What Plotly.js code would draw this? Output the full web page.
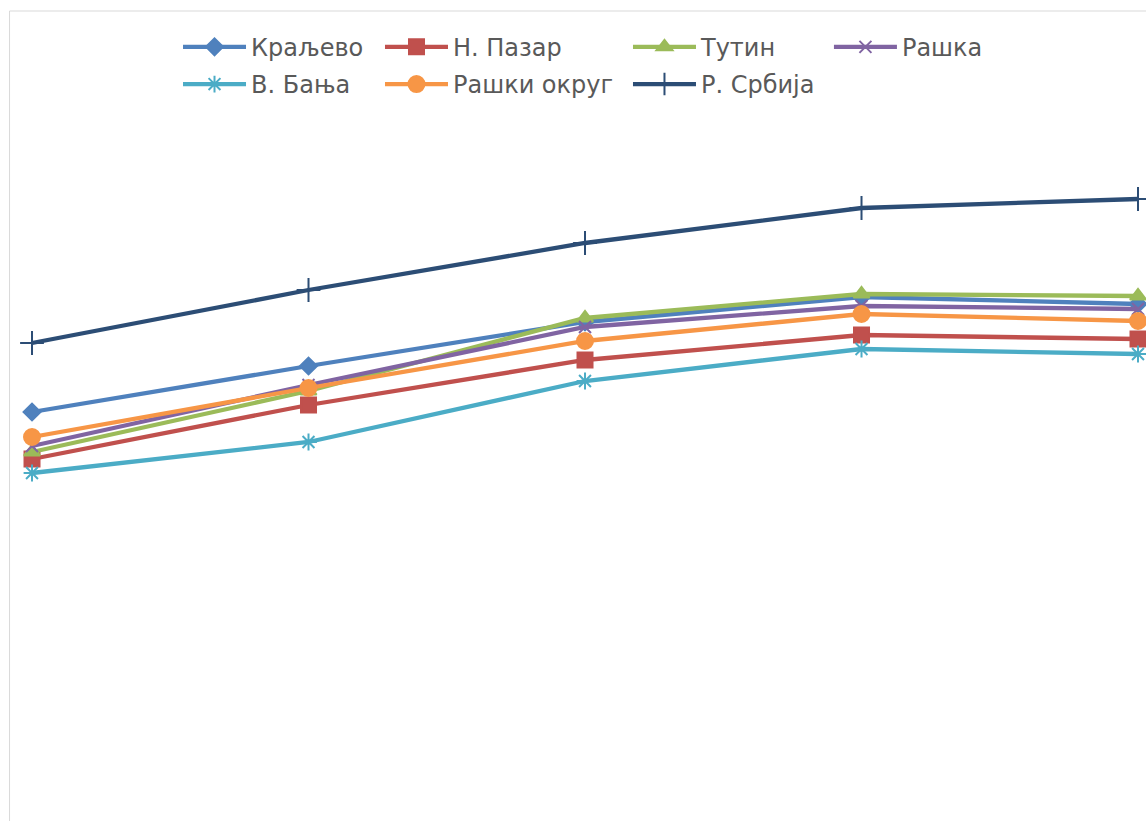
<!DOCTYPE html>
<html>
<head>
<meta charset="utf-8">
<script src="https://cdn.plot.ly/plotly-3.0.1.min.js"></script>
<style>
html,body{margin:0;padding:0;background:#fff;overflow:hidden;}
#chart{width:1146px;height:821px;}
</style>
</head>
<body>
<div id="chart"></div>
<script>
// Categories (axis labels are outside the visible crop)
const categories = ["1", "2", "3", "4", "5"];

// Series values (arbitrary linear scale)
const kraljevo   = [38.8, 43.4, 47.8, 50.3, 49.6];
const noviPazar  = [34.1, 39.5, 44.0, 46.5, 46.1];
const tutin      = [34.8, 40.9, 48.2, 50.6, 50.4];
const raska      = [35.4, 41.5, 47.3, 49.4, 49.1];
const vBanja     = [32.7, 35.8, 41.9, 45.1, 44.6];
const raskiOkrug = [36.3, 41.2, 45.9, 48.6, 47.9];
const srbija     = [45.7, 51.0, 55.7, 59.2, 60.1];

const seriesNames = ["Краљево", "Н. Пазар", "Тутин", "Рашка", "В. Бања", "Рашки округ", "Р. Србија"];
const seriesValues = [kraljevo, noviPazar, tutin, raska, vBanja, raskiOkrug, srbija];
const seriesColors = ["#4f81bd", "#c0504d", "#9bbb59", "#8064a2", "#4bacc6", "#f79646", "#2c4d75"];
const seriesSymbols = ["diamond", "square", "triangle-up", "x-thin-open", "asterisk-open", "circle", "cross-thin-open"];
const seriesSizes = [13, 15, 14, 12, 14, 16, 17];
const seriesLegend = ["legend", "legend2", "legend3", "legend4", "legend", "legend2", "legend3"];

const traces = seriesNames.map((name, i) => ({
  type: "scatter",
  mode: "lines+markers",
  name: name,
  x: categories,
  y: seriesValues[i],
  legend: seriesLegend[i],
  legendgroup: "g" + i,
  cliponaxis: false,
  line: {color: seriesColors[i], width: 4.3},
  marker: {
    symbol: seriesSymbols[i],
    size: seriesSizes[i],
    color: seriesColors[i],
    line: {color: seriesColors[i], width: 2}
  }
}));

const legendFont = {family: "DejaVu Sans", size: 24, color: "#595959"};
function mkLegend(x) {
  return {
    x: x, xanchor: "left", y: 0.983, yanchor: "top",
    orientation: "v", font: legendFont, bgcolor: "rgba(0,0,0,0)",
    borderwidth: 0, tracegroupgap: 3, itemwidth: 63
  };
}

const layout = {
  width: 1146, height: 821,
  margin: {l: 10, r: 0, t: 11, b: 0, pad: 0},
  paper_bgcolor: "#ffffff",
  plot_bgcolor: "#ffffff",
  showlegend: true,
  xaxis: {
    type: "category", range: [-0.0796, 4.0289],
    showgrid: false, zeroline: false, showline: false,
    showticklabels: false, ticks: ""
  },
  yaxis: {
    range: [-2.1, 78.9],
    showgrid: false, zeroline: false, showline: false,
    showticklabels: false, ticks: ""
  },
  legend: mkLegend(0.1479),
  legend2: mkLegend(0.3257),
  legend3: mkLegend(0.5440),
  legend4: mkLegend(0.7209),
  shapes: [
    {type: "line", xref: "paper", yref: "paper", x0: -0.0004, x1: -0.0004, y0: -0.1, y1: 1, line: {color: "#d9d9d9", width: 1}, layer: "below"},
    {type: "line", xref: "paper", yref: "paper", x0: -0.0004, x1: 1.1, y0: 1, y1: 1, line: {color: "#d9d9d9", width: 1}, layer: "below"}
  ]
};

Plotly.newPlot("chart", traces, layout, {displayModeBar: false, staticPlot: true});
</script>
</body>
</html>
